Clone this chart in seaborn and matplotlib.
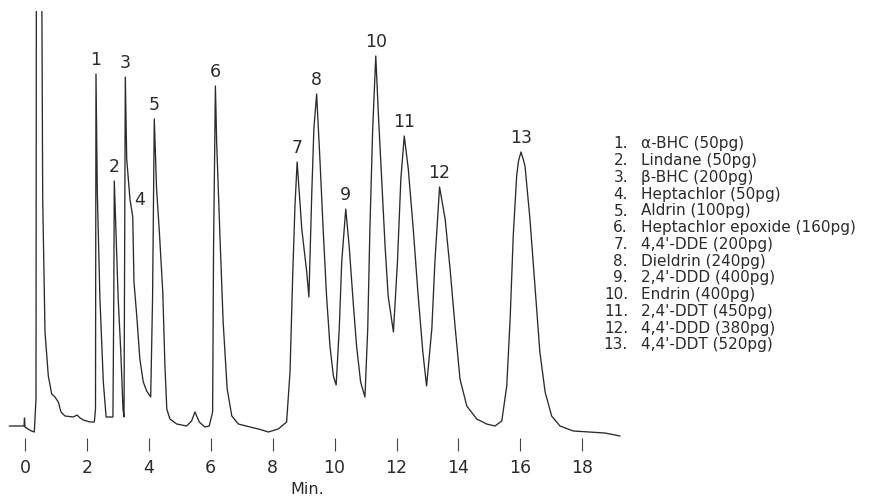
import matplotlib
matplotlib.use("Agg")
import matplotlib.pyplot as plt
import seaborn as sns
import pandas as pd

# ---- data (time in min, detector response in chart units) ----
time_min = [-0.507, -0.107, -0.032, -0.016, 0.0, 0.097, 0.21, 0.30, 0.355, 0.368, 0.536, 0.572,
            0.646, 0.753, 0.862, 0.969, 1.076, 1.163, 1.292, 1.56, 1.68, 1.78, 1.88, 2.10, 2.24,
            2.277, 2.293, 2.335, 2.42, 2.53, 2.62, 2.84,
            2.868, 2.884, 2.94, 3.01, 3.09, 3.165, 3.198,
            3.24, 3.285, 3.39, 3.48, 3.52, 3.61, 3.71, 3.82, 3.93, 4.06,
            4.12, 4.176, 4.25, 4.34, 4.45, 4.52, 4.58, 4.68, 4.90, 5.22, 5.38, 5.49, 5.63, 5.81,
            5.95, 6.06,
            6.09, 6.15, 6.19, 6.30, 6.40, 6.53, 6.68, 6.89, 7.27, 7.54, 7.86, 8.18, 8.45,
            8.56, 8.65, 8.72, 8.79, 8.94, 9.10, 9.17, 9.26, 9.33, 9.42, 9.53, 9.63, 9.74, 9.85,
            9.96, 10.05, 10.15, 10.23, 10.36, 10.47, 10.60, 10.71, 10.84, 10.98,
            11.07, 11.14, 11.23, 11.33, 11.41, 11.52, 11.63, 11.73, 11.90,
            12.03, 12.14, 12.25, 12.38, 12.54, 12.70, 12.85, 12.97,
            13.14, 13.24, 13.39, 13.57, 13.73, 13.89, 14.05, 14.27, 14.59, 14.91, 15.18, 15.40,
            15.56, 15.67, 15.77, 15.88, 15.94, 16.02, 16.09, 16.15, 16.31, 16.47, 16.63, 16.80,
            17.01, 17.28, 17.71, 18.25, 18.73, 19.22]
signal = [13, 13, 13, 21, 12, 10, 8, 7, 40, 500, 500, 240,
          107, 63, 45, 42, 37, 27, 23, 22, 24, 21, 19, 17, 17,
          30, 365, 247, 140, 57, 22, 22,
          140, 258, 207, 140, 90, 30, 22,
          362, 280, 240, 222, 157, 123, 80, 57, 48, 42,
          140, 320, 250, 207, 147, 73, 30, 20, 15, 13, 18, 27, 17, 12,
          13, 27,
          190, 353, 297, 200, 117, 50, 23, 15, 12, 10, 7, 10, 17,
          67, 167, 233, 277, 210, 167, 142, 243, 310, 345, 277, 210, 143, 93,
          63, 54, 110, 177, 230, 193, 137, 93, 57, 42,
          110, 210, 310, 383, 327, 260, 193, 143, 107,
          177, 260, 303, 270, 210, 143, 87, 53,
          110, 177, 252, 220, 170, 113, 60, 33, 20, 15, 13, 18,
          53, 120, 203, 263, 278, 287, 280, 273, 220, 153, 87, 47,
          23, 13, 8, 7, 6, 3]

peak_ids = ["1", "2", "3", "4", "5", "6", "7", "8", "9", "10", "11", "12", "13"]
peak_times = [2.293, 2.884, 3.24, 3.48, 4.176, 6.15, 8.79, 9.42, 10.36, 11.33, 12.25, 13.39, 16.02]
peak_heights = [365, 258, 362, 222, 320, 353, 277, 345, 230, 383, 303, 252, 287]

compounds = ["α-BHC", "Lindane", "β-BHC", "Heptachlor", "Aldrin", "Heptachlor epoxide",
             "4,4'-DDE", "Dieldrin", "2,4'-DDD", "Endrin", "2,4'-DDT", "4,4'-DDD", "4,4'-DDT"]
amounts_pg = [50, 50, 200, 50, 100, 160, 200, 240, 400, 400, 450, 380, 520]

x_ticks = [0, 2, 4, 6, 8, 10, 12, 14, 16, 18]

# ---- figure ----
W, H = 895, 502
sns.set_theme(style="white")
plt.rcParams["font.family"] = ["DejaVu Sans"]
ink = "#2b2b2b"

fig = plt.figure(figsize=(W / 100, H / 100), dpi=100)
fig.patch.set_facecolor("white")
ax = fig.add_axes([0, 50 / H, 1, 440 / H])
ax.set_facecolor("white")

df = pd.DataFrame({"time": time_min, "signal": signal})
sns.lineplot(data=df, x="time", y="signal", sort=False, estimator=None,
             color=ink, linewidth=0.95, ax=ax)

px_per_min = 30.96
ax.set_xlim(-25 / px_per_min, (W - 25) / px_per_min)
ax.set_ylim(-12, 428)

for s in ax.spines.values():
    s.set_visible(False)
ax.set_xticks(x_ticks)
ax.set_xticklabels([str(t) for t in x_ticks])
ax.set_yticks([])
ax.tick_params(axis="x", direction="in", length=9.5, width=0.8, color="#444444",
               labelsize=12.5, labelcolor=ink, pad=5, bottom=True)
ax.set_xlabel("")
ax.set_ylabel("")
ax.grid(False)

# peak numbers
for pid, pt, ph in zip(peak_ids, peak_times, peak_heights):
    off = (5, 13) if pid == "4" else (0, 10.5)
    ax.annotate(pid, xy=(pt, ph), xytext=off, textcoords="offset points",
                ha="center", va="center", fontsize=12.5, color=ink, annotation_clip=False)

fig.text(307 / W, 1 - 490 / H, "Min.", ha="center", va="center", fontsize=11.5, color=ink)

# compound legend
for i, (pid, name, amt) in enumerate(zip(peak_ids, compounds, amounts_pg)):
    yy = 1 - (144 + 16.75 * i) / H
    fig.text(628 / W, yy, pid + ".", ha="right", va="center", fontsize=11, color=ink)
    fig.text(641 / W, yy, f"{name} ({amt}pg)", ha="left", va="center", fontsize=11, color=ink)

fig.savefig("out.png", dpi=100, facecolor="white")
